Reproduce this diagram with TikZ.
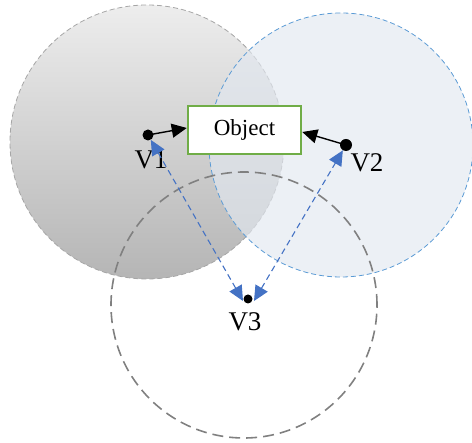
\documentclass[tikz,border=0pt]{standalone}
\usepackage{fontspec}
\setmainfont{Liberation Serif}
\usetikzlibrary{arrows.meta,shadows}
\definecolor{cblue}{HTML}{5B9BD5}
\definecolor{ablue}{HTML}{4472C4}
\definecolor{cfill}{HTML}{E2E8F0}
\definecolor{ogreen}{HTML}{70AD47}
\tikzset{
  dot/.style={circle,fill=black,inner sep=0pt,minimum size=11pt},
  lab/.style={font=\fontsize{27}{29}\selectfont,inner sep=0pt},
  objbox/.style={draw=ogreen,line width=2.5pt,fill=white,minimum width=113pt,minimum height=48pt,font=\fontsize{23}{25}\selectfont},
  blk/.style={-{Triangle[length=15pt,width=14pt]},line width=1.4pt,black},
  blu/.style={{Triangle[length=15pt,width=14pt]}-{Triangle[length=15pt,width=14pt]},ablue,line width=1.1pt,dash pattern=on 6pt off 4pt}
}
\begin{document}
\begin{tikzpicture}[x=1pt,y=1pt]
\useasboundingbox (0,0) rectangle (472,443);
% circle 1 (gray gradient)
\shade[top color=gray!14,bottom color=gray!58] (147,301) circle (137);
\draw[gray!70,line width=0.8pt,dash pattern=on 5pt off 3pt] (147,301) circle (137);
% circle 2 (light blue)
\fill[cfill,opacity=0.65] (341,298) circle (132);
\draw[cblue,line width=0.8pt,dash pattern=on 5pt off 3pt] (341,298) circle (132);
% circle 3
\draw[gray,line width=1.6pt,dash pattern=on 11pt off 6pt] (244,138) circle (133);
% object
\node[objbox] (obj) at (244.5,313) {Object};
% dots
\node[dot] (v1) at (148,308) {};
\node[dot,minimum size=12pt] (v2) at (346,298) {};
\node[dot,minimum size=9pt] (v3) at (248,144) {};
\node[lab] (l1) at (151,283) {V1};
\node[lab] (l2) at (367,280) {V2};
\node[lab] (l3) at (245,121) {V3};
% arrows
\draw[blk] (v1.center) -- (obj.west|-0,315);
\draw[blk] (v2.center) -- (obj.east|-0,311);
\coordinate (v3a) at (243,142);
\coordinate (v3b) at (254,142);
\draw[blu] (v3a) -- (v1);
\draw[blu] (v3b) -- (v2);
\end{tikzpicture}
\end{document}
